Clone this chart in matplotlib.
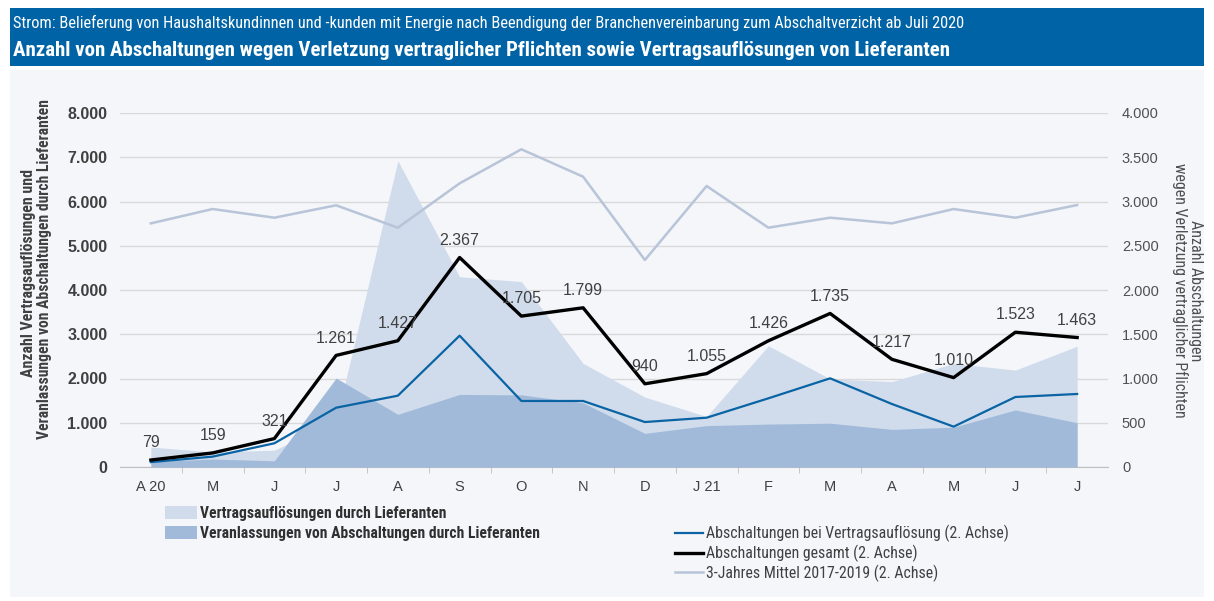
import matplotlib
matplotlib.use("Agg")
import matplotlib.pyplot as plt
from matplotlib.patches import Rectangle, Patch
from matplotlib.lines import Line2D
from matplotlib import font_manager

months = ["A 20", "M", "J", "J", "A", "S", "O", "N", "D", "J 21", "F", "M", "A", "M", "J", "J"]
vertragsaufloesungen = [450, 340, 380, 1050, 6920, 4300, 4190, 2340, 1580, 1140, 2740, 1990, 1930, 2340, 2190, 2730]
veranlassungen = [120, 180, 140, 2010, 1190, 1640, 1630, 1450, 760, 935, 970, 990, 850, 900, 1290, 1000]
abschaltungen_vertrag = [55, 117, 268, 670, 806, 1484, 746, 746, 508, 557, 776, 1002, 712, 456, 791, 825]
abschaltungen_gesamt = [79, 159, 321, 1261, 1427, 2367, 1705, 1799, 940, 1055, 1426, 1735, 1217, 1010, 1523, 1463]
mittel_2017_2019 = [2753, 2915, 2817, 2957, 2704, 3205, 3590, 3280, 2339, 3175, 2704, 2817, 2753, 2915, 2817, 2960]

left_ticks = [0, 1000, 2000, 3000, 4000, 5000, 6000, 7000, 8000]
right_ticks = [0, 500, 1000, 1500, 2000, 2500, 3000, 3500, 4000]

def de(v):
    return f"{v:,}".replace(",", ".")

available = {f.name for f in font_manager.fontManager.ttflist}
def pick(prefs):
    for p in prefs:
        if p in available:
            return [p, "DejaVu Sans"]
    return ["DejaVu Sans"]

NARROW = pick(["Liberation Sans Narrow", "Roboto Condensed", "Open Sans Condensed", "DejaVu Sans Condensed", "Roboto", "Liberation Sans"])
NUM = pick(["Liberation Sans", "Roboto", "DejaVu Sans"])

W, H = 1214, 601
fig = plt.figure(figsize=(W / 100, H / 100), dpi=100)
fig.patch.set_facecolor("white")

# background panel and header band
fig.patches.append(Rectangle((10 / W, 1 - 597 / H), 1194 / W, 527 / H, transform=fig.transFigure,
                             facecolor="#f4f6fa", edgecolor="none", zorder=-10))
fig.patches.append(Rectangle((10 / W, 1 - 66 / H), 1194 / W, 58 / H, transform=fig.transFigure,
                             facecolor="#0063a6", edgecolor="none", zorder=-10))

renderer = fig.canvas.get_renderer()
def fit(t, target_px):
    w = t.get_window_extent(renderer).width
    t.set_fontsize(t.get_fontsize() * target_px / w)

t1 = fig.text(13 / W, 1 - 23 / H, "Strom: Belieferung von Haushaltskundinnen und -kunden mit Energie nach Beendigung der Branchenvereinbarung zum Abschaltverzicht ab Juli 2020",
              color="white", fontsize=10.5, family=NARROW, va="center", ha="left")
fit(t1, 962)
t2 = fig.text(13 / W, 1 - 50 / H, "Anzahl von Abschaltungen wegen Verletzung vertraglicher Pflichten sowie Vertragsauflösungen von Lieferanten",
              color="white", fontsize=12.5, family=NARROW, fontweight="bold", va="center", ha="left")
fit(t2, 942)

ax = fig.add_axes([120 / W, 1 - 467 / H, 988 / W, 354 / H])
ax.set_facecolor("none")
x = list(range(len(months)))

c_light = "#d0dcec"
c_dark = "#a1bad9"
ax.fill_between(x, 0, vertragsaufloesungen, color=c_light, linewidth=0, zorder=2)
ax.fill_between(x, 0, veranlassungen, color=c_dark, linewidth=0, zorder=3)

ax.set_xlim(-0.5, len(months) - 0.5)
ax.set_ylim(0, 8000)
ax.set_yticks(left_ticks)
ax.set_yticklabels([de(v) for v in left_ticks], fontsize=11.5, fontweight="bold", color="#404040", family=NUM)
ax.yaxis.grid(True, color="#d9d9d9", linewidth=1)
ax.set_axisbelow(True)
ax.tick_params(axis="y", length=0, pad=9)
ax.set_xticks(x)
ax.set_xticklabels(months, fontsize=10.5, color="#404040", family=NUM)
ax.set_xticks([i + 0.5 for i in x[:-1]], minor=True)
ax.tick_params(axis="x", which="major", length=0, pad=9.5)
ax.tick_params(axis="x", which="minor", length=4, color="#bfbfbf", direction="out")
for s in ["top", "right", "left"]:
    ax.spines[s].set_visible(False)
ax.spines["bottom"].set_color("#bfbfbf")

ax2 = ax.twinx()
ax2.set_ylim(0, 4000)
ax2.set_yticks(right_ticks)
ax2.set_yticklabels([de(v) for v in right_ticks], fontsize=10.5, color="#505050", family=NUM)
ax2.tick_params(axis="y", length=0, pad=10)
for s in ax2.spines.values():
    s.set_visible(False)

ax2.plot(x, mittel_2017_2019, color="#b8c4d8", linewidth=1.8, zorder=4)
ax2.plot(x, abschaltungen_vertrag, color="#0a64a4", linewidth=1.6, zorder=5)
ax2.plot(x, abschaltungen_gesamt, color="black", linewidth=2.4, zorder=6)
for xi, v in zip(x, abschaltungen_gesamt):
    ax2.annotate(de(v), (xi, v), xytext=(0, 7), textcoords="offset points", ha="center", va="bottom",
                 fontsize=11.5, color="#404040", family=NUM, zorder=7)

y1 = fig.text(29 / W, 1 - 273 / H, "Anzahl Vertragsauflösungen und",
              rotation=90, ha="center", va="center", fontsize=10, fontweight="bold", color="#404040", family=NARROW)
y2 = fig.text(45 / W, 1 - 269 / H, "Veranlassungen von Abschaltungen durch Lieferanten",
              rotation=90, ha="center", va="center", fontsize=10, fontweight="bold", color="#404040", family=NARROW)
r1 = fig.text(1196 / W, 1 - 291 / H, "Anzahl Abschaltungen",
              rotation=-90, ha="center", va="center", fontsize=10, color="#505050", family=NARROW)
r2 = fig.text(1180 / W, 1 - 290 / H, "wegen Verletzung vertraglicher Pflichten",
              rotation=-90, ha="center", va="center", fontsize=10, color="#505050", family=NARROW)
def fit_v(t, target_px):
    h = t.get_window_extent(renderer).height
    t.set_fontsize(t.get_fontsize() * target_px / h)
fit_v(y1, 207)
fit_v(y2, 338)
fit_v(r1, 142)
fit_v(r2, 255)

# size for legend text fitted to reference width
probe = fig.text(0, 0, "Vertragsauflösungen durch Lieferanten", family=NARROW, fontweight="bold", fontsize=10)
fit(probe, 246)
leg_size_b = probe.get_fontsize()
probe.remove()
probe = fig.text(0, 0, "Abschaltungen bei Vertragsauflösung (2. Achse)", family=NARROW, fontsize=10)
fit(probe, 302)
leg_size = probe.get_fontsize()
probe.remove()

px_b = leg_size_b * 100 / 72
px_n = leg_size * 100 / 72

h1 = [Patch(facecolor=c_light, edgecolor="none"), Patch(facecolor=c_dark, edgecolor="none")]
l1 = ["Vertragsauflösungen durch Lieferanten", "Veranlassungen von Abschaltungen durch Lieferanten"]
leg1 = fig.legend(h1, l1, loc="upper left", bbox_to_anchor=(165 / W, 1 - 506 / H), frameon=False,
                  borderpad=0, borderaxespad=0,
                  handlelength=32 / px_b, handleheight=0.9, handletextpad=3 / px_b, labelspacing=0.3,
                  prop={"family": NARROW, "weight": "bold", "size": leg_size_b})
for t in leg1.get_texts():
    t.set_color("#303030")

h2 = [Line2D([], [], color="#0a64a4", lw=1.6), Line2D([], [], color="black", lw=2.4),
      Line2D([], [], color="#b8c4d8", lw=1.8)]
l2 = ["Abschaltungen bei Vertragsauflösung (2. Achse)", "Abschaltungen gesamt (2. Achse)",
      "3-Jahres Mittel 2017-2019 (2. Achse)"]
leg2 = fig.legend(h2, l2, loc="upper left", bbox_to_anchor=(675 / W, 1 - 525 / H), frameon=False,
                  borderpad=0, borderaxespad=0,
                  handlelength=28 / px_n, handletextpad=3 / px_n, labelspacing=0.15,
                  prop={"family": NARROW, "size": leg_size})
for t in leg2.get_texts():
    t.set_color("#404040")

fig.savefig("out.png", dpi=100)
